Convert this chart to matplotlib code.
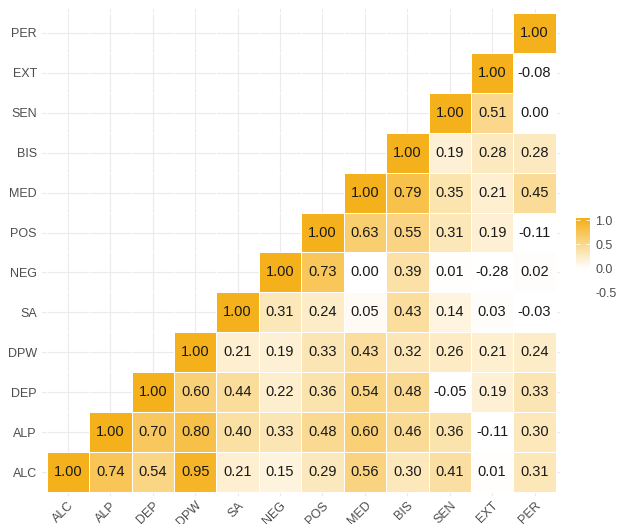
import numpy as np
import matplotlib
matplotlib.use("Agg")
import matplotlib.pyplot as plt
from matplotlib.colors import LinearSegmentedColormap, Normalize

plt.rcParams['font.family'] = ['Liberation Sans', 'DejaVu Sans']

labels = ["ALC", "ALP", "DEP", "DPW", "SA", "NEG", "POS", "MED", "BIS", "SEN", "EXT", "PER"]

# each row starts at the diagonal and runs to PER
row_alc = [1.00, 0.74, 0.54, 0.95, 0.21, 0.15, 0.29, 0.56, 0.30, 0.41, 0.01, 0.31]
row_alp = [1.00, 0.70, 0.80, 0.40, 0.33, 0.48, 0.60, 0.46, 0.36, -0.11, 0.30]
row_dep = [1.00, 0.60, 0.44, 0.22, 0.36, 0.54, 0.48, -0.05, 0.19, 0.33]
row_dpw = [1.00, 0.21, 0.19, 0.33, 0.43, 0.32, 0.26, 0.21, 0.24]
row_sa = [1.00, 0.31, 0.24, 0.05, 0.43, 0.14, 0.03, -0.03]
row_neg = [1.00, 0.73, 0.00, 0.39, 0.01, -0.28, 0.02]
row_pos = [1.00, 0.63, 0.55, 0.31, 0.19, -0.11]
row_med = [1.00, 0.79, 0.35, 0.21, 0.45]
row_bis = [1.00, 0.19, 0.28, 0.28]
row_sen = [1.00, 0.51, 0.00]
row_ext = [1.00, -0.08]
row_per = [1.00]

rows = [row_alc, row_alp, row_dep, row_dpw, row_sa, row_neg,
        row_pos, row_med, row_bis, row_sen, row_ext, row_per]

n = len(labels)
corr = np.full((n, n), np.nan)
for i, vals in enumerate(rows):
    corr[i, i:] = vals

cmap = LinearSegmentedColormap.from_list("white_orange", ["#FFFFFF", "#F5B11B"])
cmap.set_under("#FFFFFF")
norm = Normalize(vmin=0.0, vmax=1.0)

W, H = 619, 524
fig = plt.figure(figsize=(W / 100, H / 100), dpi=100)
ax = fig.add_axes([42.5 / W, 1 - 496 / H, (560 - 42.5) / W, (496 - 9) / H])

edges = np.arange(n + 1) - 0.5
ax.pcolormesh(edges, edges, np.ma.masked_invalid(corr), cmap=cmap, norm=norm,
              edgecolors="#FFFFFF", linewidth=0.4)

for i in range(n):
    for j in range(i, n):
        ax.text(j, i, f"{corr[i, j]:.2f}", ha="center", va="center",
                fontsize=10.5, color="#1A1A1A")

ax.set_xlim(-0.6, n - 0.4)
ax.set_ylim(-0.6, n - 0.4)
ax.set_xticks(range(n))
ax.set_yticks(range(n))
ax.set_xticklabels(labels)
ax.set_yticklabels(labels)
ax.tick_params(length=0, labelsize=9, labelcolor="#4D4D4D")
ax.tick_params(axis="y", pad=4)
ax.tick_params(axis="x", pad=2.5)
plt.setp(ax.get_xticklabels(), rotation=45, ha="right", va="top", rotation_mode="anchor")

ax.grid(True, color="#EBEBEB", linewidth=0.8, linestyle="-")
ax.set_axisbelow(True)
for spine in ax.spines.values():
    spine.set_visible(False)

# colour bar legend
lo, hi = -0.55, 1.05
cax = fig.add_axes([576 / W, 1 - 295.4 / H, 14 / W, (295.4 - 217.6) / H])
grad = np.linspace(lo, hi, 256).reshape(-1, 1)
cax.imshow(grad, cmap=cmap, norm=norm, aspect="auto", origin="lower",
           extent=[0, 1, lo, hi])
cax.set_xlim(0, 1)
cax.set_ylim(lo, hi)
cax.set_xticks([])
cax.set_yticks([-0.5, 0.0, 0.5, 1.0])
cax.set_yticklabels(["-0.5", "0.0", "0.5", "1.0"])
cax.yaxis.tick_right()
cax.tick_params(axis="y", direction="in", length=3, color="#FFFFFF", width=0.6,
                left=True, right=True, labelsize=9, labelcolor="#4D4D4D", pad=4)
for spine in cax.spines.values():
    spine.set_visible(False)

fig.savefig("out.png", dpi=100, facecolor="white")
